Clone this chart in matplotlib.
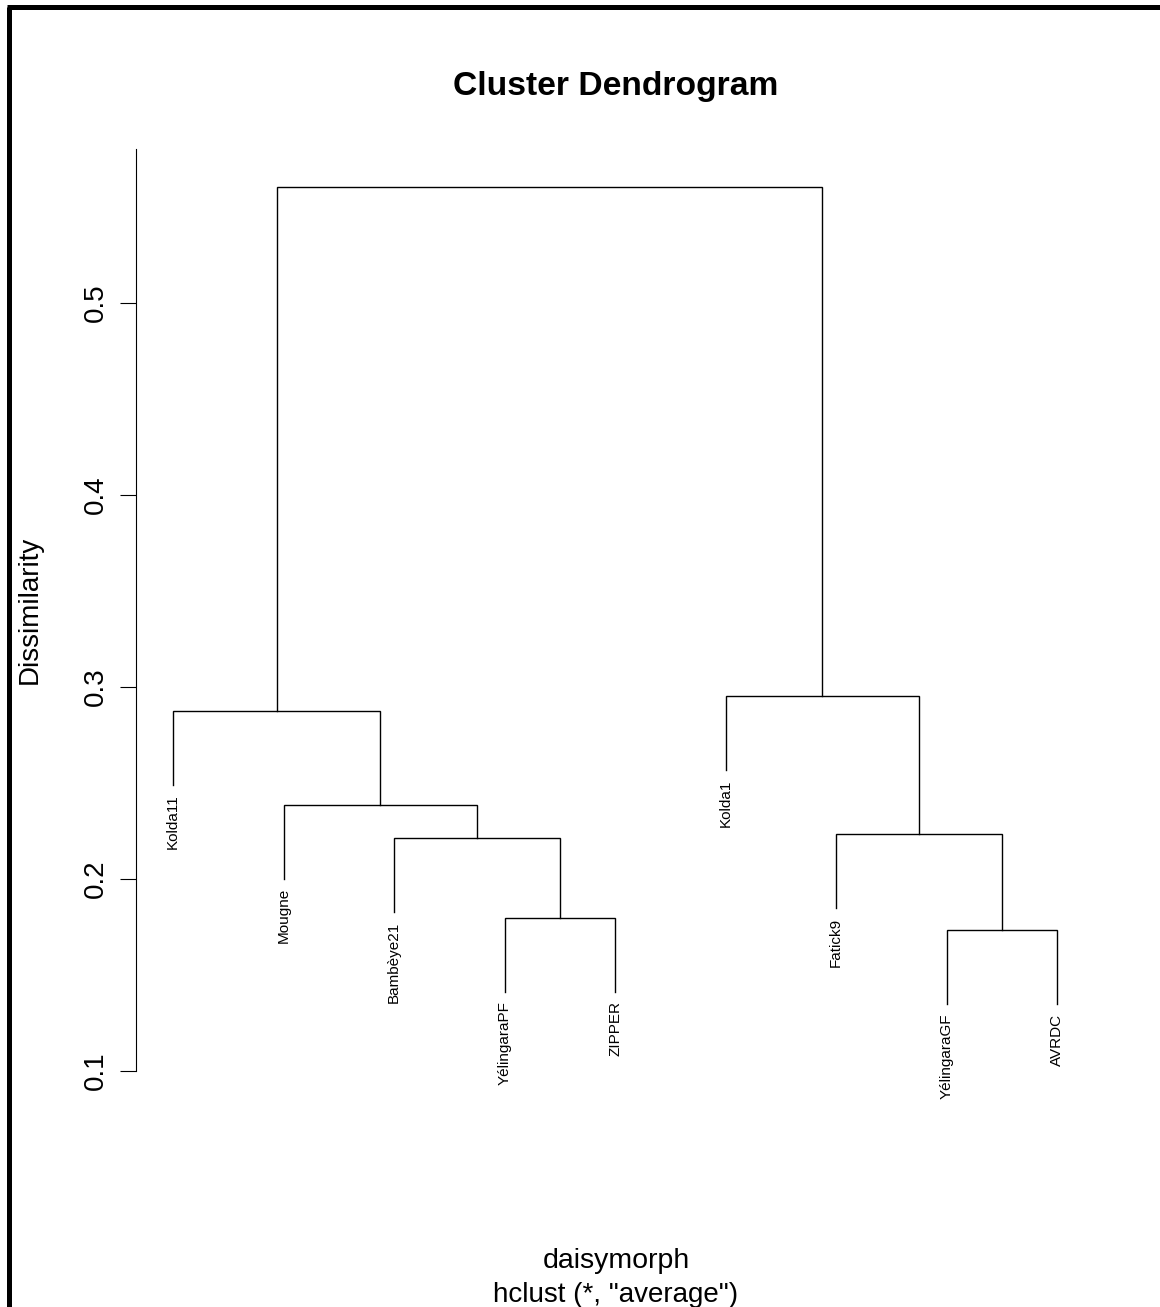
import matplotlib
matplotlib.use("Agg")
import matplotlib.pyplot as plt
from matplotlib.lines import Line2D

plt.rcParams['font.family'] = ['Liberation Sans', 'DejaVu Sans']

# leaves in plotting order
leaf_labels = ["Kolda11", "Mougne", "Bambèye21", "YélingaraPF", "ZIPPER",
               "Kolda1", "Fatick9", "YélingaraGF", "AVRDC"]

# R-style merge table: negative = leaf (1-based), positive = earlier merge
merge_left = [-8, -4, -3, -7, -2, -1, -6, 6]
merge_right = [-9, -5, 2, 1, 3, 5, 4, 7]
merge_height = [0.1734, 0.1799, 0.2213, 0.2234, 0.2386, 0.2877, 0.2953, 0.5604]

y_ticks = [0.1, 0.2, 0.3, 0.4, 0.5]

W, H = 1160, 1307
fig = plt.figure(figsize=(W / 100, H / 100), dpi=100)
fig.patch.set_facecolor("white")

ax_l, ax_r = 136, 1094.3
ax_t, ax_b = 149.4, 1071
ax = fig.add_axes([ax_l / W, (H - ax_b) / H, (ax_r - ax_l) / W, (ax_b - ax_t) / H])

hang = 0.1 * (max(merge_height) - min(merge_height))
lw = 1.0
col = "black"

# position and height of each node
node_x = {}
node_h = {}


def child_pos(c):
    if c < 0:
        return float(-c), None
    return node_x[c], node_h[c]


for i, (a, b, h) in enumerate(zip(merge_left, merge_right, merge_height), start=1):
    xa, ha = child_pos(a)
    xb, hb = child_pos(b)
    ya = ha if ha is not None else h - hang
    yb = hb if hb is not None else h - hang
    ax.plot([xa, xa, xb, xb], [ya, h, h, yb], color=col, lw=lw,
            solid_joinstyle="miter", clip_on=False)
    for c, xc, yc in ((a, xa, ya), (b, xb, yb)):
        if c < 0:
            ax.annotate(leaf_labels[-c - 1], xy=(xc, yc), xytext=(0, -6.5),
                        textcoords="offset points", rotation=90,
                        ha="center", va="top", fontsize=11,
                        annotation_clip=False)
    node_x[i] = (xa + xb) / 2
    node_h[i] = h

n = len(leaf_labels)
pad = (173.05 - ax_l) / 110.53
ax.set_xlim(1 - pad, n + pad)
ax.set_ylim(0.1, 0.58)

for s in ["top", "right", "bottom"]:
    ax.spines[s].set_visible(False)
ax.spines["left"].set_linewidth(0.8)
ax.set_xticks([])
ax.set_yticks(y_ticks)
ax.set_yticklabels([f"{t:.1f}" for t in y_ticks])
ax.tick_params(axis="y", length=11.5, width=0.8, labelsize=20, pad=8,
               labelrotation=90)
for lbl in ax.get_yticklabels():
    lbl.set_va("center")
    lbl.set_ha("right")
ax.patch.set_visible(False)

# titles and labels
fig.text(616 / W, 1 - 95 / H, "Cluster Dendrogram", ha="center", va="baseline",
         fontsize=24.2, fontweight="bold")
fig.text(29.5 / W, 1 - 610 / H, "Dissimilarity", rotation=90,
         ha="center", va="center", fontsize=20)
fig.text(616 / W, 1 - 1268 / H, "daisymorph", ha="center", va="baseline",
         fontsize=20.5)
fig.text(616 / W, 1 - 1302 / H, 'hclust (*, "average")', ha="center",
         va="baseline", fontsize=20)

# frame on left and top edges
blw = 5 * 72 / 100
fig.add_artist(Line2D([9 / W, 9 / W], [1 - 6.5 / H, -0.01], color="black",
                      lw=blw, transform=fig.transFigure, solid_capstyle="butt"))
fig.add_artist(Line2D([6.5 / W, 1.01], [1 - 6.5 / H, 1 - 6.5 / H], color="black",
                      lw=blw, transform=fig.transFigure, solid_capstyle="butt"))

fig.savefig("out.png", dpi=100)
